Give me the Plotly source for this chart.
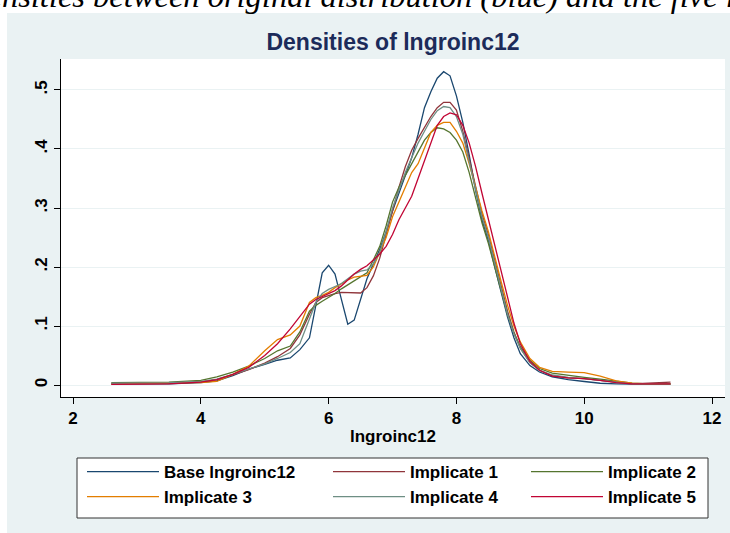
import plotly.graph_objects as go

# ---------------- data ----------------
x_grid = [2.6, 3.0, 3.5, 4.0, 4.25, 4.5, 4.75, 5.0, 5.2, 5.4, 5.55, 5.7, 5.8, 5.9,
          6.0, 6.1, 6.2, 6.3, 6.4, 6.5, 6.6, 6.7, 6.8, 6.9, 7.0, 7.1, 7.2, 7.3, 7.4,
          7.5, 7.6, 7.7, 7.8, 7.9, 8.0, 8.1, 8.2, 8.3, 8.4, 8.5, 8.6, 8.7, 8.8, 8.9,
          9.0, 9.15, 9.3, 9.5, 9.75, 10.0, 10.25, 10.5, 10.75, 11.0, 11.35]

base = [0.002, 0.002, 0.002, 0.004, 0.007, 0.016, 0.027, 0.035, 0.042, 0.046, 0.060, 0.080, 0.135, 0.190,
        0.203, 0.188, 0.145, 0.103, 0.110, 0.145, 0.180, 0.205, 0.230, 0.260, 0.295, 0.325, 0.355, 0.385, 0.425,
        0.470, 0.497, 0.520, 0.531, 0.524, 0.490, 0.445, 0.390, 0.330, 0.280, 0.245, 0.200, 0.155, 0.115, 0.080,
        0.053, 0.033, 0.022, 0.014, 0.009, 0.006, 0.003, 0.002, 0.001, 0.001, 0.001]

imp1 = [0.002, 0.002, 0.003, 0.005, 0.009, 0.017, 0.026, 0.037, 0.048, 0.062, 0.085, 0.120, 0.140, 0.148,
        0.152, 0.155, 0.157, 0.157, 0.157, 0.156, 0.165, 0.185, 0.215, 0.255, 0.295, 0.335, 0.370, 0.398, 0.418,
        0.437, 0.455, 0.470, 0.479, 0.479, 0.466, 0.430, 0.385, 0.335, 0.290, 0.255, 0.210, 0.165, 0.125, 0.090,
        0.063, 0.038, 0.025, 0.016, 0.012, 0.011, 0.008, 0.004, 0.002, 0.003, 0.005]

imp2 = [0.004, 0.004, 0.005, 0.008, 0.014, 0.022, 0.032, 0.045, 0.058, 0.066, 0.090, 0.125, 0.135, 0.142,
        0.148, 0.155, 0.163, 0.170, 0.177, 0.183, 0.190, 0.212, 0.235, 0.270, 0.310, 0.335, 0.355, 0.375, 0.395,
        0.415, 0.428, 0.436, 0.434, 0.428, 0.415, 0.395, 0.360, 0.315, 0.275, 0.240, 0.200, 0.160, 0.120, 0.088,
        0.065, 0.042, 0.028, 0.020, 0.016, 0.013, 0.010, 0.006, 0.003, 0.002, 0.002]

imp3 = [0.002, 0.003, 0.004, 0.004, 0.006, 0.018, 0.032, 0.058, 0.077, 0.085, 0.100, 0.140, 0.148, 0.152,
        0.157, 0.165, 0.172, 0.178, 0.183, 0.185, 0.186, 0.200, 0.225, 0.250, 0.285, 0.310, 0.335, 0.360, 0.375,
        0.400, 0.428, 0.440, 0.445, 0.445, 0.430, 0.410, 0.375, 0.335, 0.295, 0.260, 0.215, 0.175, 0.135, 0.100,
        0.073, 0.045, 0.030, 0.023, 0.022, 0.021, 0.015, 0.007, 0.003, 0.002, 0.002]

imp4 = [0.003, 0.003, 0.004, 0.006, 0.010, 0.018, 0.027, 0.036, 0.045, 0.055, 0.070, 0.110, 0.140, 0.155,
        0.162, 0.167, 0.172, 0.180, 0.188, 0.193, 0.195, 0.205, 0.225, 0.260, 0.300, 0.330, 0.360, 0.385, 0.410,
        0.430, 0.450, 0.465, 0.472, 0.470, 0.455, 0.425, 0.380, 0.330, 0.285, 0.250, 0.205, 0.160, 0.120, 0.087,
        0.062, 0.038, 0.025, 0.017, 0.013, 0.011, 0.008, 0.004, 0.002, 0.002, 0.002]

imp5 = [0.001, 0.001, 0.002, 0.005, 0.009, 0.018, 0.030, 0.050, 0.070, 0.095, 0.115, 0.137, 0.145, 0.150,
        0.155, 0.160, 0.168, 0.178, 0.188, 0.196, 0.202, 0.212, 0.222, 0.235, 0.255, 0.280, 0.300, 0.320, 0.350,
        0.380, 0.410, 0.440, 0.455, 0.461, 0.458, 0.440, 0.410, 0.370, 0.325, 0.280, 0.235, 0.190, 0.145, 0.105,
        0.070, 0.040, 0.025, 0.015, 0.012, 0.011, 0.008, 0.004, 0.002, 0.002, 0.002]

series_names = ["Base lngroinc12", "Implicate 1", "Implicate 2",
                "Implicate 3", "Implicate 4", "Implicate 5"]
series_values = [base, imp1, imp2, imp3, imp4, imp5]
series_colors = ["#1a476f", "#90353b", "#55752f", "#e37e00", "#6e8e84", "#c10534"]

x_ticks = [2, 4, 6, 8, 10, 12]
y_ticks = [0, 0.1, 0.2, 0.3, 0.4, 0.5]
y_ticklabels = ["0", ".1", ".2", ".3", ".4", ".5"]

# ---------------- layout geometry (pixels) ----------------
W, H = 730, 533
L, R, T, B = 61, 5, 59, 136
pw, ph = W - L - R, H - T - B


def px_x(px):
    return (px - L) / pw


def px_y(py):
    return (H - B - py) / ph


FONT = "Liberation Sans, Arial, sans-serif"
BG = "#eaf2f3"

fig = go.Figure()

# legend slots: (legend-left px, row-center px)
legend_pos = [(82, 472), (328, 472), (526, 472),
              (82, 497), (328, 497), (526, 497)]

for i, (name, vals, col) in enumerate(zip(series_names, series_values, series_colors)):
    lg = "legend" if i == 0 else f"legend{i + 1}"
    fig.add_trace(go.Scatter(x=x_grid, y=vals, mode="lines", name=name, showlegend=True,
                             line=dict(color=col, width=1.3), legend=lg))

legends = {}
for i, (lx, ly) in enumerate(legend_pos):
    key = "legend" if i == 0 else f"legend{i + 1}"
    legends[key] = dict(x=px_x(lx), y=px_y(ly), xanchor="left", yanchor="middle",
                        xref="paper", yref="paper", visible=True,
                        bgcolor="rgba(0,0,0,0)", borderwidth=0,
                        font=dict(family=FONT, size=17, color="#000000", weight="bold"),
                        itemwidth=72, itemclick=False, itemdoubleclick=False)

shapes = [
    # graph region panel
    dict(type="rect", xref="paper", yref="paper", x0=px_x(7), x1=px_x(731),
         y0=px_y(534), y1=px_y(13), fillcolor=BG, line=dict(width=0), layer="below"),
    # plot region
    dict(type="rect", xref="paper", yref="paper", x0=0, x1=1, y0=0, y1=1,
         fillcolor="#ffffff", line=dict(width=0), layer="below"),
    # legend box
    dict(type="rect", xref="paper", yref="paper", x0=px_x(77), x1=px_x(708),
         y0=px_y(518), y1=px_y(458), fillcolor="#ffffff",
         line=dict(color="#333333", width=1), layer="below"),
]

fig.update_layout(
    width=W, height=H,
    margin=dict(l=L, r=R, t=T, b=B, pad=0, autoexpand=False),
    paper_bgcolor="#ffffff",
    plot_bgcolor="#ffffff",
    showlegend=True,
    font=dict(family=FONT, color="#000000"),
    title=dict(text="Densities of lngroinc12", x=px_x(393), xref="paper", xanchor="center",
               y=1 - 42 / H, yref="container", yanchor="middle",
               font=dict(family=FONT, size=23, color="#1c2b5a", weight="bold")),
    shapes=shapes,
    annotations=[
        dict(text="<i>Densities between original distribution (blue) and the five imputed</i>",
             xref="paper", yref="paper", x=px_x(-39), y=px_y(16),
             xanchor="left", yanchor="bottom", showarrow=False,
             font=dict(family="Liberation Serif, Times New Roman, serif", size=32.5,
                       color="#000000"),
             ),
    ],
    xaxis=dict(range=[1.812, 12.203], tickvals=x_ticks, ticktext=[str(v) for v in x_ticks],
               showgrid=False, zeroline=False, showline=True, linecolor="#000000", linewidth=1,
               ticks="outside", ticklen=6, tickcolor="#000000", tickwidth=1, automargin=False,
               tickfont=dict(family=FONT, size=17, color="#000000", weight="bold"),
               title=dict(text="lngroinc12",
                          font=dict(family=FONT, size=17, color="#000000", weight="bold"),
                          standoff=2)),
    yaxis=dict(range=[-0.0203, 0.5525], tickvals=y_ticks, ticktext=y_ticklabels,
               showgrid=True, gridcolor=BG, gridwidth=1, zeroline=False,
               showline=True, linecolor="#000000", linewidth=1, automargin=False,
               ticks="outside", ticklen=6, tickcolor="#000000", tickwidth=1,
               tickangle=-90,
               tickfont=dict(family=FONT, size=17, color="#000000", weight="bold")),
    **legends,
)

fig.write_html("out.html", config={"displayModeBar": False},
               post_script="document.body.style.margin='0';")
